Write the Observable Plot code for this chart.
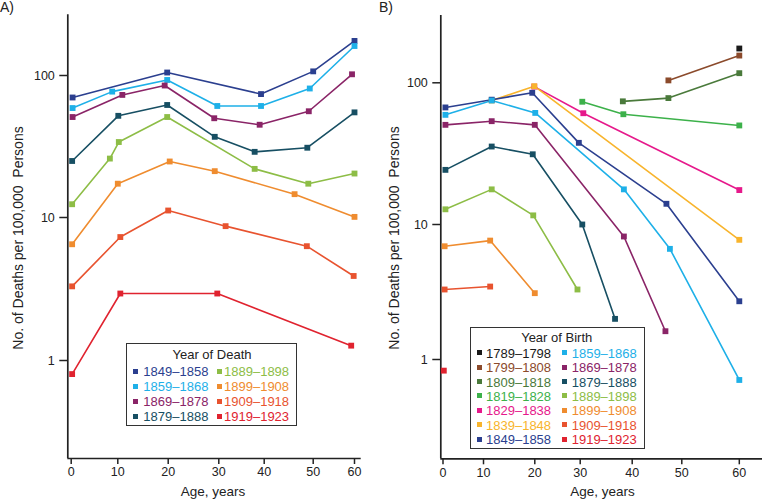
<!DOCTYPE html>
<html>
<head>
<meta charset="utf-8">
<script src="https://cdn.jsdelivr.net/npm/d3@7"></script>
<script src="https://cdn.jsdelivr.net/npm/@observablehq/plot@0.6"></script>
<style>
  html, body { margin: 0; padding: 0; background: #fff; }
  #wrap { position: relative; width: 766px; height: 499px; overflow: hidden;
          font-family: "Liberation Sans", Arial, Helvetica, sans-serif; color: #222; }
  .panel { position: absolute; top: 0; }
  .panel [aria-label$="tick"] path, .panel .tick line { stroke-width: 1.5px; }
  .lbl { position: absolute; white-space: pre; line-height: 1; }
  .legend { position: absolute; border: 1.5px solid #333; background: #fff; box-sizing: border-box; }
  .sw { position: absolute; width: 5px; height: 5px; }
</style>
</head>
<body>
<div id="wrap"></div>
<script>
// ---------- data ----------
const ageTicks = [0, 10, 20, 30, 40, 50, 60];
const rateTicks = [1, 10, 100];

// Panel A: Year of Death
const deathLabels = ["1849–1858","1859–1868","1869–1878","1879–1888","1889–1898","1899–1908","1909–1918","1919–1923"];
const deathColors = ["#2b3f8f","#1eb0e8","#8a2467","#174f63","#8dbd46","#ef8c2f","#e8532f","#e0232f"];
const deathAges = [
  [0.3, 19.8, 39.3, 50, 60],
  [0.3, 8.8, 19.8, 29.7, 39.3, 49.3, 60],
  [0.3, 10.9, 19.3, 29.1, 39, 49.1, 59.4],
  [0.2, 10.1, 19.8, 29.2, 37.9, 48.8, 60],
  [0.2, 8.3, 10.2, 19.8, 37.9, 49, 60],
  [0.2, 10, 20.3, 29.2, 46.2, 60],
  [0.2, 10.5, 20, 31.5, 48.7, 59.8],
  [0.2, 10.5, 29.7, 59.2]
];
const deathRates = [
  [70, 105, 74, 107, 176],
  [59, 77, 93, 61, 61, 81, 162],
  [51, 73, 85, 50, 45, 56, 102],
  [25, 52, 62, 37, 29, 31, 55],
  [12.4, 26, 34, 51, 22, 17.3, 20.4],
  [6.5, 17.3, 24.8, 21.2, 14.6, 10.1],
  [3.3, 7.3, 11.2, 8.7, 6.3, 3.9],
  [0.8, 2.94, 2.94, 1.27]
];

// Panel B: Year of Birth
const birthLabels = ["1789–1798","1799–1808","1809–1818","1819–1828","1829–1838","1839–1848","1849–1858",
                     "1859–1868","1869–1878","1879–1888","1889–1898","1899–1908","1909–1918","1919–1923"];
const birthColors = ["#1a1a1a","#8b4a2b","#4a7a3b","#3cb14a","#e6198b","#f8b42c","#2b3f8f",
                     "#1eb0e8","#8a2467","#174f63","#8dbd46","#ef8c2f","#e8532f","#e0232f"];
const birthAges = [
  [60],
  [47.3, 60],
  [38.2, 47.3, 60],
  [30.4, 38.3, 60],
  [19.9, 30.6, 60],
  [11.6, 19.9, 60],
  [0.6, 11.6, 19.5, 29.7, 46.9, 60],
  [0.6, 11.6, 20.1, 38.4, 47.6, 60],
  [0.6, 11.6, 20, 38.4, 46.7],
  [0.6, 11.6, 19.6, 30.4, 36.7],
  [0.6, 11.6, 19.7, 29.4],
  [0.4, 11.3, 20],
  [0.4, 11.3],
  [0.2]
];
const birthRates = [
  [175],
  [104, 156],
  [74, 78, 117],
  [73.5, 60, 50],
  [94, 61, 17.5],
  [75, 94.6, 7.7],
  [67, 76, 85, 37.7, 14, 2.7],
  [59.4, 75, 61.3, 17.7, 6.6, 0.71],
  [50.5, 53.6, 50.5, 8.15, 1.62],
  [24.3, 35.5, 31.3, 10, 2.0],
  [12.8, 17.7, 11.6, 3.3],
  [6.9, 7.6, 3.1],
  [3.3, 3.47],
  [0.83]
];

// ---------- helpers ----------
function rows(labels, ages, rates) {
  return labels.flatMap((c, i) => ages[i].map((a, j) => ({cohort: c, age: a, rate: rates[i][j]})));
}
const axisColor = "#222";
const fontFam = '"Liberation Sans", Arial, Helvetica, sans-serif';

function panel(cfg) {
  const data = rows(cfg.labels, cfg.ages, cfg.rates);
  // the original figure's age axis is drawn with uneven tick spacing: piecewise-linear transform
  const ageToAxis = d3.scaleLinear().domain(cfg.xDomain).range(cfg.xRange);
  const xr = [cfg.xRange[0], cfg.xRange[cfg.xRange.length - 1]];
  const xd0 = cfg.xDomain[0], xd1 = cfg.xDomain[cfg.xDomain.length - 1];
  const yd = cfg.yDomain;
  return Plot.plot({
    width: 383, height: 499,
    marginLeft: cfg.m[0], marginRight: cfg.m[1], marginTop: cfg.m[2], marginBottom: cfg.m[3],
    style: {fontFamily: fontFam, fontSize: "12.5px", color: "#222", background: "transparent", overflow: "visible"},
    x: {type: "linear", transform: ageToAxis, domain: xr, range: xr,
        ticks: ageTicks.map(ageToAxis), tickSize: 6, tickPadding: 3, label: null,
        tickFormat: v => String(Math.round(ageToAxis.invert(v)))},
    y: {type: "log", domain: yd, range: cfg.yRange, ticks: rateTicks, tickSize: 8, tickPadding: 5, label: null, tickFormat: d => String(d)},
    color: {domain: cfg.labels, range: cfg.colors},
    marks: [
      Plot.ruleY([yd[0]], {x1: xd0, x2: xd1, stroke: axisColor, strokeWidth: 1.7}),
      Plot.ruleX([xd0], {y1: yd[0], y2: yd[yd.length - 1], stroke: axisColor, strokeWidth: 1.7}),
      Plot.line(data, {x: "age", y: "rate", z: "cohort", stroke: "cohort", strokeWidth: 1.6}),
      Plot.dot(data, {x: "age", y: "rate", fill: "cohort", symbol: "square", r: 3.3, stroke: null})
    ]
  });
}

const wrap = document.getElementById("wrap");

const left = panel({
  labels: deathLabels, colors: deathColors, ages: deathAges, rates: deathRates,
  m: [67.3, 22.3, 14.3, 41],
  xDomain: [-0.75, 0, 10, 20, 30, 40, 50, 60, 61.6],
  xRange:  [67.3, 70.7, 117.3, 167.7, 218.3, 263.7, 312.7, 354, 360.7],
  yDomain: [0.2, 1, 10, 100, 270],
  yRange:  [458, 360, 217, 75, 14.3]
});
left.classList.add("panel"); left.style.left = "0px";
wrap.appendChild(left);

const right = panel({
  labels: birthLabels, colors: birthColors, ages: birthAges, rates: birthRates,
  m: [57.3, 4, 15, 40.7],
  xDomain: [-0.5, 0, 10, 20, 30, 40, 50, 60, 64],
  xRange:  [57.3, 59.5, 100, 151.3, 196.7, 248.7, 298.3, 355.8, 379],
  yDomain: [0.19, 1, 10, 100, 300],
  yRange:  [458.3, 359, 224, 82.3, 15]
});
right.classList.add("panel"); right.style.left = "383px";
wrap.appendChild(right);

// ---------- text labels ----------
function label(text, x, y, opts = {}) {
  const d = document.createElement("div");
  d.className = "lbl";
  d.textContent = text;
  d.style.left = x + "px"; d.style.top = y + "px";
  d.style.fontSize = (opts.size || 13) + "px";
  d.style.transform = "translate(-50%,-50%)" + (opts.rotate ? " rotate(-90deg)" : "");
  if (opts.color) d.style.color = opts.color;
  wrap.appendChild(d);
  return d;
}
label("A)", 7, 7, {size: 14});
label("B)", 386, 7, {size: 14});
label("No. of Deaths per 100,000  Persons", 18, 238, {size: 14, rotate: true});
label("No. of Deaths per 100,000  Persons", 394, 238, {size: 14, rotate: true});
label("Age, years", 213, 491.5, {size: 13.5});
label("Age, years", 602.5, 491.5, {size: 13.5});

// ---------- legends ----------
function legend(cfg) {
  const box = document.createElement("div");
  box.className = "legend";
  Object.assign(box.style, {left: cfg.x + "px", top: cfg.y + "px", width: cfg.w + "px", height: cfg.h + "px"});
  wrap.appendChild(box);
  label(cfg.title, cfg.titleX, cfg.titleY, {size: 13});
  cfg.labels.forEach((lab, i) => {
    const col = Math.floor(i / cfg.perCol), r = i % cfg.perCol;
    const cy = cfg.row0 + r * cfg.dy;
    const sw = document.createElement("div");
    sw.className = "sw";
    sw.style.background = cfg.colors[i];
    sw.style.left = (cfg.mx[col] - 2.5) + "px";
    sw.style.top = (cy - 2.5) + "px";
    wrap.appendChild(sw);
    const t = document.createElement("div");
    t.className = "lbl";
    t.textContent = lab;
    t.style.fontSize = "13px";
    t.style.color = cfg.colors[i];
    t.style.left = cfg.tx[col] + "px";
    t.style.top = cy + "px";
    t.style.transform = "translate(0,-50%)";
    wrap.appendChild(t);
  });
}
legend({title: "Year of Death", labels: deathLabels, colors: deathColors, perCol: 4,
  x: 126, y: 342.7, w: 171, h: 83.5, titleX: 212, titleY: 353.5,
  row0: 371, dy: 15, mx: [135.8, 219.2], tx: [143.3, 224]});
legend({title: "Year of Birth", labels: birthLabels, colors: birthColors, perCol: 7,
  x: 470, y: 327.3, w: 174.5, h: 122, titleX: 556.7, titleY: 337,
  row0: 352.7, dy: 14.4, mx: [479.2, 564.5], tx: [486, 571.7]});
</script>
</body>
</html>
